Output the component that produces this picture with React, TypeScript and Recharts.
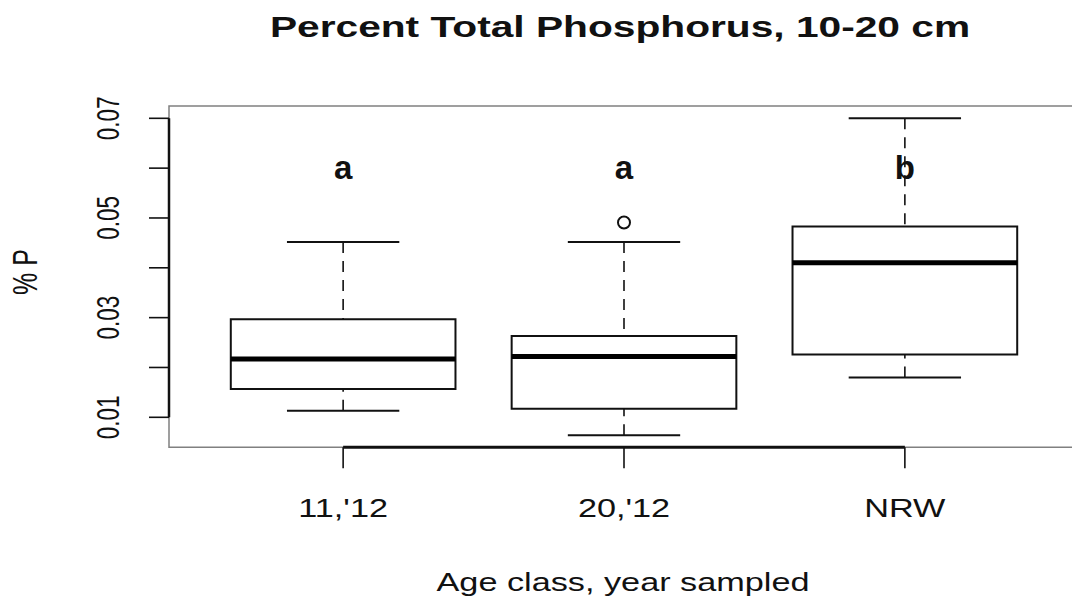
import React from "react";
import {
  ComposedChart,
  XAxis,
  YAxis,
  Scatter,
  ReferenceArea,
  ReferenceLine,
} from "recharts";

// ---- data ----
const categories = ["11,'12", "20,'12", "NRW"];
const positions = [1, 2, 3];
const whiskerLow = [0.0113, 0.0064, 0.018];
const quartile1 = [0.0157, 0.0117, 0.0226];
const medians = [0.0217, 0.0222, 0.041];
const quartile3 = [0.0297, 0.0263, 0.0483];
const whiskerHigh = [0.0452, 0.0452, 0.07];
const outlierGroups = [2];
const outlierValues = [0.0491];
const groupLetters = ["a", "a", "b"];
const letterLevel = 0.0578;
const yTicks = [0.01, 0.02, 0.03, 0.04, 0.05, 0.06, 0.07];
const yTickLabels = ["0.01", "0.03", "0.05", "0.07"];
const xDomain: [number, number] = [0.38, 3.62];
const yDomain: [number, number] = [0.00398, 0.07247];

const title = "Percent Total Phosphorus, 10-20 cm";
const xTitle = "Age class, year sampled";
const yTitle = "% P";

const FONT = "'Liberation Sans', Arial, Helvetica, sans-serif";
const SX = 1.37;
const BOX_HALF = 0.4;
const CAP_HALF = 0.2;

const outlierData = outlierGroups.map((g, i) => ({ x: g, y: outlierValues[i] }));
const letterData = positions.map((p, i) => ({ x: p, y: letterLevel, label: groupLetters[i] }));

const XTick = (props: any) => {
  const { x, y, payload } = props;
  const idx = positions.indexOf(payload.value);
  if (idx < 0) return null;
  return (
    <g transform={`translate(${x},${y + 49}) scale(${SX},1)`}>
      <text x={0} y={0} textAnchor="middle" fontFamily={FONT} fontSize={25} fill="#111">
        {categories[idx]}
      </text>
    </g>
  );
};

const YTick = (props: any) => {
  const { x, y, payload } = props;
  const lbl = Number(payload.value).toFixed(2);
  if (!yTickLabels.includes(lbl)) return null;
  return (
    <g transform={`translate(${x - 30},${y}) scale(${SX},1) rotate(-90)`}>
      <text x={0} y={0} textAnchor="middle" fontFamily={FONT} fontSize={22.5} fill="#111">
        {lbl}
      </text>
    </g>
  );
};

const OutlierShape = (props: any) => {
  const { cx, cy } = props;
  return <circle cx={cx} cy={cy} r={6} fill="none" stroke="#111" strokeWidth={2} />;
};

const LetterShape = (props: any) => {
  const { cx, cy, payload } = props;
  return (
    <text x={cx} y={cy} textAnchor="middle" fontFamily={FONT} fontSize={33} fontWeight="bold" fill="#111">
      {payload.label}
    </text>
  );
};

export default function App() {
  return (
    <div
      style={{
        position: "absolute",
        left: 0,
        top: 0,
        width: 1072,
        height: 616,
        overflow: "hidden",
        background: "#fff",
      }}
    >
      <ComposedChart
        width={1100}
        height={616}
        margin={{ top: 106, right: 21, bottom: 108.7, left: 0 }}
      >
        <XAxis
          type="number"
          dataKey="x"
          domain={xDomain}
          ticks={positions}
          allowDataOverflow
          axisLine={false}
          tickLine={{ stroke: "#111", strokeWidth: 1.6 }}
          tickSize={21}
          tickMargin={0}
          height={60}
          tick={<XTick />}
          interval={0}
        />
        <YAxis
          type="number"
          dataKey="y"
          domain={yDomain}
          ticks={yTicks}
          allowDataOverflow
          axisLine={false}
          tickLine={{ stroke: "#111", strokeWidth: 1.6 }}
          tickSize={20}
          tickMargin={0}
          width={169}
          tick={<YTick />}
          interval={0}
        />
        {/* plot frame */}
        <ReferenceArea
          x1={xDomain[0]}
          x2={xDomain[1]}
          y1={yDomain[0]}
          y2={yDomain[1]}
          fill="none"
          fillOpacity={0}
          stroke="#808080"
          strokeWidth={1.5}
        />
        {/* axis lines (between first and last tick) */}
        <ReferenceLine
          segment={[
            { x: xDomain[0], y: yTicks[0] },
            { x: xDomain[0], y: yTicks[yTicks.length - 1] },
          ]}
          stroke="#111"
          strokeWidth={2.5}
        />
        <ReferenceLine
          segment={[
            { x: positions[0], y: yDomain[0] },
            { x: positions[positions.length - 1], y: yDomain[0] },
          ]}
          stroke="#111"
          strokeWidth={3}
        />
        {positions.map((p, i) => (
          <ReferenceLine
            key={`wl-${i}`}
            segment={[
              { x: p, y: whiskerLow[i] },
              { x: p, y: quartile1[i] },
            ]}
            stroke="#111"
            strokeWidth={1.6}
            strokeDasharray="11 8"
          />
        ))}
        {positions.map((p, i) => (
          <ReferenceLine
            key={`wh-${i}`}
            segment={[
              { x: p, y: whiskerHigh[i] },
              { x: p, y: quartile3[i] },
            ]}
            stroke="#111"
            strokeWidth={1.6}
            strokeDasharray="11 8"
          />
        ))}
        {positions.map((p, i) => (
          <ReferenceLine
            key={`cl-${i}`}
            segment={[
              { x: p - CAP_HALF, y: whiskerLow[i] },
              { x: p + CAP_HALF, y: whiskerLow[i] },
            ]}
            stroke="#111"
            strokeWidth={2}
          />
        ))}
        {positions.map((p, i) => (
          <ReferenceLine
            key={`ch-${i}`}
            segment={[
              { x: p - CAP_HALF, y: whiskerHigh[i] },
              { x: p + CAP_HALF, y: whiskerHigh[i] },
            ]}
            stroke="#111"
            strokeWidth={2}
          />
        ))}
        {positions.map((p, i) => (
          <ReferenceArea
            key={`box-${i}`}
            x1={p - BOX_HALF}
            x2={p + BOX_HALF}
            y1={quartile1[i]}
            y2={quartile3[i]}
            fill="none"
            fillOpacity={0}
            stroke="#111"
            strokeWidth={2}
          />
        ))}
        {positions.map((p, i) => (
          <ReferenceLine
            key={`med-${i}`}
            segment={[
              { x: p - BOX_HALF, y: medians[i] },
              { x: p + BOX_HALF, y: medians[i] },
            ]}
            stroke="#000"
            strokeWidth={5}
          />
        ))}
        <Scatter data={outlierData} dataKey="y" shape={<OutlierShape />} isAnimationActive={false} />
        <Scatter data={letterData} dataKey="y" shape={<LetterShape />} isAnimationActive={false} />
      </ComposedChart>
      <svg
        width={1072}
        height={616}
        style={{ position: "absolute", left: 0, top: 0, pointerEvents: "none" }}
      >
        <g transform={`translate(620,36.7) scale(1.38,1)`}>
          <text x={0} y={0} textAnchor="middle" fontFamily={FONT} fontSize={29.5} fontWeight="bold" fill="#111">
            {title}
          </text>
        </g>
        <g transform={`translate(623,590.7) scale(${SX},1)`}>
          <text x={0} y={0} textAnchor="middle" fontFamily={FONT} fontSize={25} fill="#111">
            {xTitle}
          </text>
        </g>
        <g transform={`translate(37,272) scale(${SX},1) rotate(-90)`}>
          <text x={0} y={0} textAnchor="middle" fontFamily={FONT} fontSize={25} fill="#111">
            {yTitle}
          </text>
        </g>
      </svg>
    </div>
  );
}
